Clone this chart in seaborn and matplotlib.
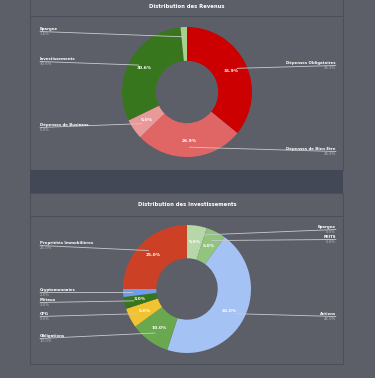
import numpy as np
import matplotlib
matplotlib.use("Agg")
import matplotlib.pyplot as plt
import seaborn as sns
from matplotlib.patches import Rectangle

# ==============================================================================
# DATA
# ==============================================================================
rev_title = "Distribution des Revenus"
rev_labels = ["Dépenses Obligatoires", "Dépenses de Bien Etre", "Dépenses de Business",
              "Investissements", "Epargne"]
rev_values = [35.9, 26.9, 5.0, 30.6, 1.6]
rev_colors = ["#cc0000", "#e06666", "#ea9999", "#38761d", "#a9d18e"]

inv_title = "Distribution des Investissements"
inv_labels = ["Epargne", "REITS", "Actions", "Obligations", "CPG", "Métaux",
              "Cryptomonnaies", "Propriétés Immobilières"]
inv_values = [5.0, 5.0, 45.0, 10.0, 5.0, 3.0, 2.0, 25.0]
inv_colors = ["#b6d7a8", "#93c47d", "#a4c2f4", "#6aa84f", "#f1c232", "#38761d",
              "#6d9eeb", "#cc4125"]

# label layout (pixel rows from top, side of the chart)
rev_label_y = [63, 149, 125, 59, 29]
rev_label_side = ["R", "R", "L", "L", "L"]
inv_label_y = [227, 237, 314, 336, 314, 300, 290, 243]
inv_label_side = ["R", "R", "R", "L", "L", "L", "L", "L"]

# ==============================================================================
# STYLE
# ==============================================================================
W, H = 375, 378
BG = "#5c5f68"
BORDER = "#4b4f59"
BAND = "#434856"
sns.set_theme(style="dark", rc={"figure.facecolor": BG, "axes.facecolor": BG})
plt.rcParams["font.family"] = ["DejaVu Sans"]

fig = plt.figure(figsize=(W / 100, H / 100), dpi=100)
ax = fig.add_axes([0, 0, 1, 1])


def Y(y):
    # pixel row (from top) -> data y
    return H - y


def panel(top, bottom, title, title_y, sep_y):
    ax.add_patch(Rectangle((30, Y(bottom)), 313, bottom - top, facecolor=BG,
                           edgecolor=BORDER, lw=0.8, zorder=0))
    ax.plot([30, 343], [Y(sep_y), Y(sep_y)], color=BORDER, lw=0.8, zorder=1)
    ax.text(187, Y(title_y), title, color="white", fontsize=3.8, fontweight="bold",
            ha="center", va="center")


def donut(cx, cy, r, values, labels, colors, label_y, label_side):
    ax.pie(values, colors=colors, startangle=90, counterclock=False,
           center=(cx, Y(cy)), radius=r,
           wedgeprops=dict(width=r * 0.52, linewidth=0))
    total = sum(values)
    cum = 0
    for v, lab, ly, side in zip(values, labels, label_y, label_side):
        mid = (cum + v / 2) / total * 2 * np.pi
        cum += v
        dx, dy = np.sin(mid), np.cos(mid)
        # percent inside ring
        if v >= 3:
            ax.text(cx + dx * r * 0.75, Y(cy) + dy * r * 0.75, f"{v:.1f}%", color="white",
                    fontsize=3.2, fontweight="bold", ha="center", va="center")
        # leader line + outside label
        axx, axy = cx + dx * r * 0.85, Y(cy) + dy * r * 0.85
        line_y = Y(ly + 2.5)
        if side == "L":
            tx, ha = 40, "left"
        else:
            tx, ha = 336, "right"
        ax.plot([tx, axx], [line_y, axy], color="#c8cad0", lw=0.6, zorder=3)
        ax.text(tx, Y(ly), lab, color="white", fontsize=2.8, fontweight="bold",
                ha=ha, va="center")
        ax.text(tx, Y(ly + 5), f"{v:.1f}%", color="#b8bbc2", fontsize=2.8,
                ha=ha, va="center")


# panels
panel(-2, 170, rev_title, 7, 16)
ax.add_patch(Rectangle((30, Y(193)), 313, 23, facecolor=BAND, edgecolor="none", zorder=0))
panel(193, 364, inv_title, 205, 216)

donut(187, 92, 65, rev_values, rev_labels, rev_colors, rev_label_y, rev_label_side)
donut(187, 289, 64, inv_values, inv_labels, inv_colors, inv_label_y, inv_label_side)

ax.set_xlim(0, W)
ax.set_ylim(0, H)
ax.set_aspect("auto")
ax.set_position([0, 0, 1, 1])
ax.axis("off")

fig.savefig("out.png", dpi=100, facecolor=BG)
plt.close(fig)
